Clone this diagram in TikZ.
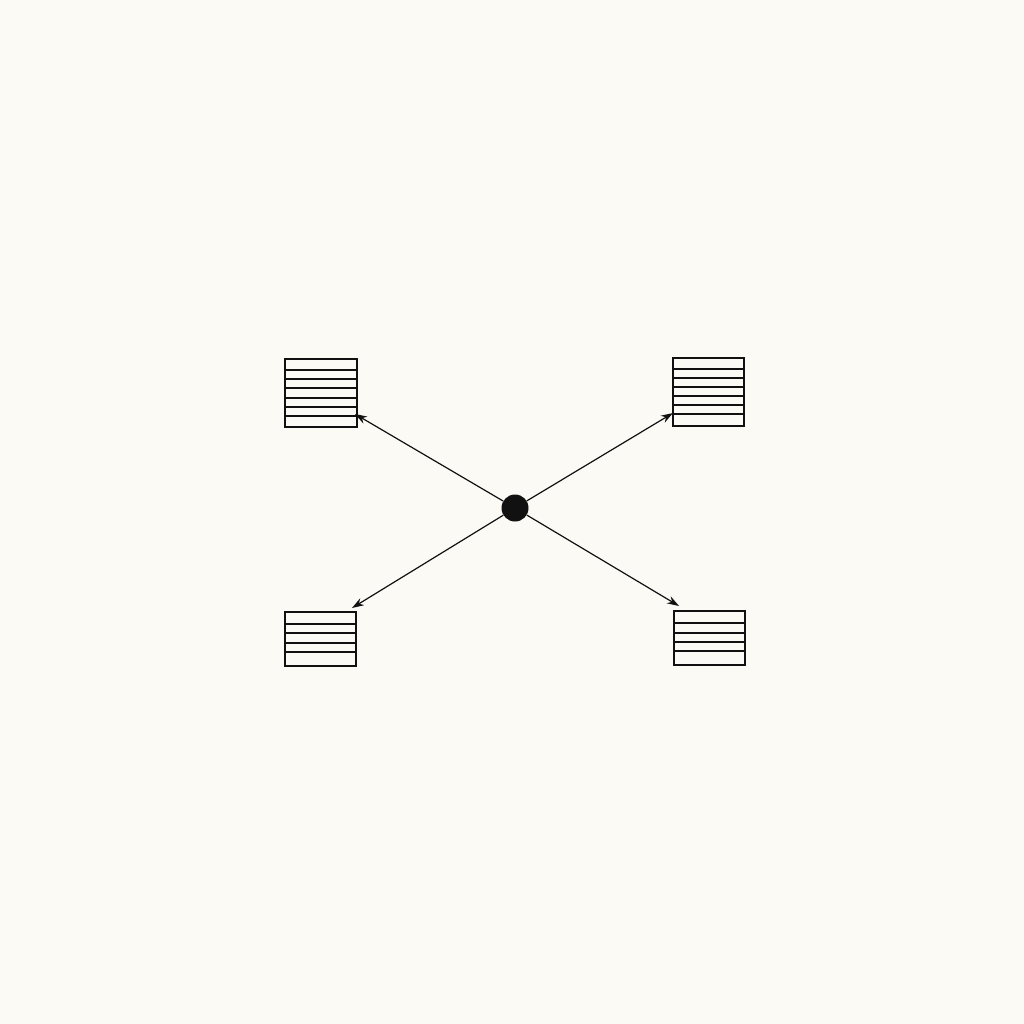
\documentclass[tikz,border=0pt]{standalone}
\usetikzlibrary{arrows.meta}
\definecolor{bg}{HTML}{FCFAF5}
\definecolor{ink}{HTML}{111111}
\begin{document}
\begin{tikzpicture}[x=1pt,y=-1pt,
  boxline/.style={draw=ink,line width=1.5pt},
  rowline/.style={draw=ink,line width=1.3pt},
  conn/.style={draw=ink,line width=1.2pt,-{Stealth[length=12pt,width=8pt]}}]
\fill[bg] (0,0) rectangle (1024,1024);
\useasboundingbox (0,0) rectangle (1024,1024);
% top-left box
\node[boxline,fill=bg,minimum width=72pt,minimum height=68pt,inner sep=0pt,anchor=north west] (tl) at (284,358) {};
\foreach \yy in {370,379,388,398,407,416} \draw[rowline] (284,\yy) -- (356,\yy);
% top-right box
\node[boxline,fill=bg,minimum width=71pt,minimum height=68pt,inner sep=0pt,anchor=north west] (tr) at (672,357) {};
\foreach \yy in {369,378,387,396,405,414} \draw[rowline] (672,\yy) -- (743,\yy);
% bottom-left box
\node[boxline,fill=bg,minimum width=71pt,minimum height=54pt,inner sep=0pt,anchor=north west] (bl) at (284,611) {};
\foreach \yy in {624,633,643,652} \draw[rowline] (284,\yy) -- (355,\yy);
% bottom-right box
\node[boxline,fill=bg,minimum width=71pt,minimum height=54pt,inner sep=0pt,anchor=north west] (br) at (673,610) {};
\foreach \yy in {623,633,642,651} \draw[rowline] (673,\yy) -- (744,\yy);
% hub
\node[circle,fill=ink,minimum size=27pt,inner sep=0pt] (hub) at (515,508) {};
\coordinate (tltip) at (355,414);
\coordinate (trtip) at (673,413);
\coordinate (bltip) at (352,608);
\coordinate (brtip) at (679,606);
\draw[conn] (hub) -- (tltip);
\draw[conn] (hub) -- (trtip);
\draw[conn] (hub) -- (bltip);
\draw[conn] (hub) -- (brtip);
\end{tikzpicture}
\end{document}
